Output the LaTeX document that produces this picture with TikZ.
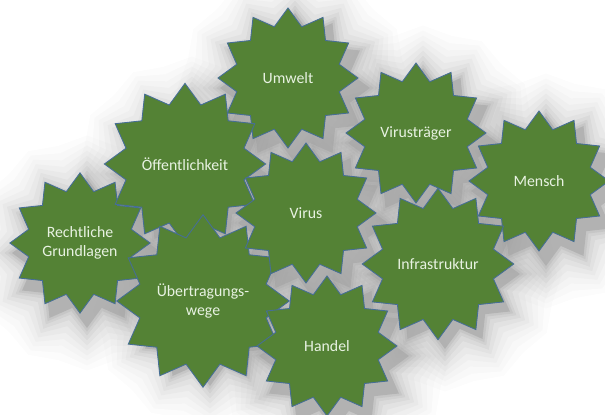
\documentclass[tikz,border=0pt]{standalone}
\usepackage{fontspec}
\setmainfont{Carlito}
\usepackage{xcolor}
\usetikzlibrary{shapes.geometric}

\definecolor{sterngruen}{RGB}{84,130,53}
\definecolor{sternrand}{RGB}{70,110,150}
\definecolor{sterntext}{RGB}{232,242,226}

\tikzset{
  stern/.style={star, star points=12, star point ratio=1.32, minimum size=2.8cm,
    inner sep=0pt, fill=sterngruen, draw=sternrand, line width=0.5pt,
    text=sterntext, font=\fontsize{9}{10.5}\selectfont, align=center},
  schatten/.style={star, star points=12, inner sep=0pt,
    fill=gray!75, draw=none}
}

% Name / Position / Text
\newcommand{\sterne}{%
  recht/{80,243}/{Rechtliche\\Grundlagen},
  mensch/{539,181}/{Mensch},
  umwelt/{288,78}/{Umwelt},
  oeffentlich/{185,164}/{Öffentlichkeit},
  traeger/{416,133}/{Virusträger},
  wege/{203,301}/{Übertragungs-\\wege},
  infra/{438,264}/{Infrastruktur},
  handel/{327,346}/{Handel},
  virus/{306,213}/{Virus}}

\begin{document}
\begin{tikzpicture}[x=0.02cm, y=-0.02cm]

% Rahmen
\useasboundingbox (0,0) rectangle (605,415);

% weicher Schatten zuerst
\foreach \n/\p/\t in \sterne {
  \foreach \s/\r/\o [count=\i] in {4.7/1.06/0.03, 4.5/1.09/0.04, 4.3/1.12/0.05,
      4.1/1.15/0.06, 3.9/1.18/0.07, 3.7/1.22/0.09, 3.5/1.26/0.12,
      3.3/1.29/0.16, 3.15/1.31/0.22, 3.0/1.32/0.5}
    \node[schatten, minimum size=\s cm, star point ratio=\r, opacity=\o,
      xshift=0.14cm, yshift=-0.2cm] (\n-schatten\i) at (\p) {};
}

% Sterne darueber
\foreach \n/\p/\t in \sterne
  \node[stern] (\n) at (\p) {\t};

\end{tikzpicture}
\end{document}
